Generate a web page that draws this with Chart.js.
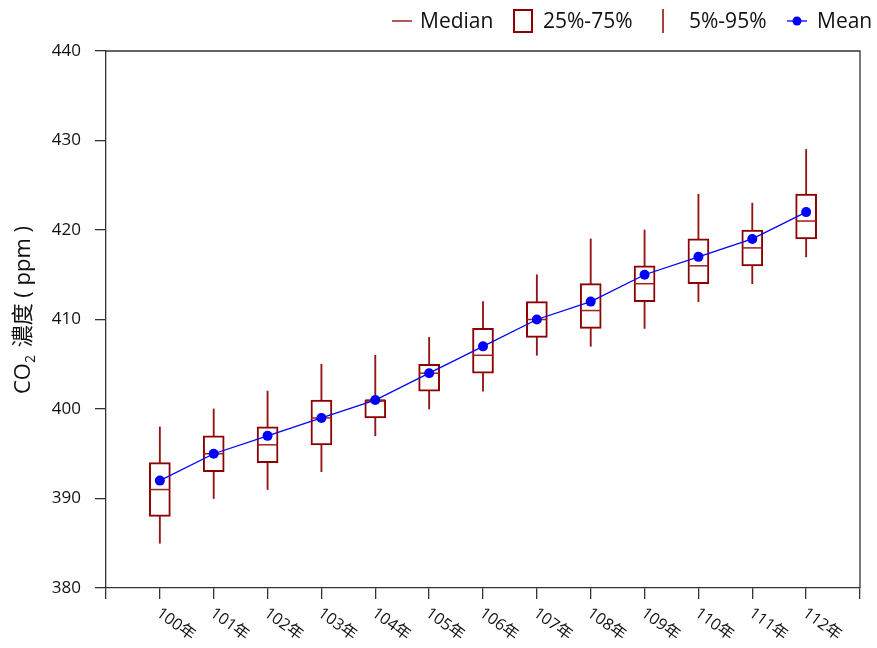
<!DOCTYPE html>
<html><head><meta charset="utf-8">
<script src="https://cdn.jsdelivr.net/npm/chart.js@4/dist/chart.umd.min.js"></script>
<style>html,body{margin:0;padding:0;background:#fff}#wrap{width:877px;height:648px}</style>
</head><body><div id="wrap"><canvas id="c" width="877" height="648"></canvas></div>
<script>
const years = [100,101,102,103,104,105,106,107,108,109,110,111,112];
const yearLabels = years.map(y => y + '年');
const p5     = [385,390,391,393,397,400,402,406,407,409,412,414,417];
const q1     = [388,393,394,396,399,402,404,408,409,412,414,416,419];
const median = [391,395,396,399,401,404,406,410,411,414,416,418,421];
const q3     = [394,397,398,401,401,405,409,412,414,416,419,420,424];
const p95    = [398,400,402,405,406,408,412,415,419,420,424,423,429];
const mean   = [392,395,397,399,401,404,407,410,412,415,417,419,422];
const yTicks = [380,390,400,410,420,430,440];
const legendNames = ['Median','25%-75%','5%-95%','Mean'];
const yTitle = ['CO','2',' 濃度 ( ppm )'];

const FONT = "'Open Sans','Noto Sans CJK TC',sans-serif";
const DARK = '#8b0000';
const MED = '#9e2020';
const BLUE = '#0000ff';
const AX = '#333333';

const pts = arr => years.map((x, i) => ({x, y: arr[i]}));
const rng = (a, b) => years.map((x, i) => ({x, y: [a[i], b[i]]}));

const deco = {
  id: 'deco',
  beforeDatasetsDraw(chart) {
    const {ctx, chartArea: a} = chart;
    ctx.save();
    ctx.strokeStyle = AX; ctx.lineWidth = 1.3;
    ctx.beginPath();
    ctx.moveTo(a.left, a.top); ctx.lineTo(a.right, a.top); ctx.lineTo(a.right, a.bottom);
    ctx.stroke();
    ctx.restore();
  },
  afterDraw(chart) {
    const {ctx} = chart;
    const xs = chart.scales.x;
    ctx.save();
    ctx.fillStyle = '#111';
    ctx.font = '16px ' + FONT;
    ctx.textAlign = 'left'; ctx.textBaseline = 'top';
    years.forEach((yr, i) => {
      const px = xs.getPixelForValue(yr);
      ctx.save();
      ctx.translate(px + 3, 605);
      ctx.rotate(36 * Math.PI / 180);
      ctx.fillText(yearLabels[i], 0, 0);
      ctx.restore();
    });
    ctx.save();
    ctx.translate(24, 311);
    ctx.rotate(-Math.PI / 2);
    ctx.fillStyle = '#111';
    ctx.textBaseline = 'middle'; ctx.textAlign = 'left';
    const big = '22px ' + FONT, small = '14px ' + FONT;
    ctx.font = big; const w0 = ctx.measureText(yTitle[0]).width;
    ctx.font = small; const w1 = ctx.measureText(yTitle[1]).width;
    ctx.font = big; const w2 = ctx.measureText(yTitle[2]).width;
    let sx = -(w0 + w1 + w2) / 2;
    ctx.font = big; ctx.fillText(yTitle[0], sx, 0); sx += w0;
    ctx.font = small; ctx.fillText(yTitle[1], sx, 7); sx += w1 + 2;
    ctx.font = big; ctx.fillText(yTitle[2], sx, 0);
    ctx.restore();
    ctx.font = '21px ' + FONT;
    ctx.fillStyle = '#111';
    ctx.textBaseline = 'middle'; ctx.textAlign = 'left';
    const ly = 21;
    ctx.strokeStyle = MED; ctx.lineWidth = 1.5;
    ctx.beginPath(); ctx.moveTo(392, ly); ctx.lineTo(412, ly); ctx.stroke();
    ctx.fillText(legendNames[0], 420, ly + 1);
    ctx.strokeStyle = DARK; ctx.lineWidth = 2;
    ctx.strokeRect(514, 10, 18, 22);
    ctx.fillText(legendNames[1], 543, ly + 1);
    ctx.lineWidth = 1.5;
    ctx.beginPath(); ctx.moveTo(663, 9); ctx.lineTo(663, 33); ctx.stroke();
    ctx.fillText(legendNames[2], 689, ly + 1);
    ctx.strokeStyle = BLUE; ctx.lineWidth = 1.3;
    ctx.beginPath(); ctx.moveTo(787, ly); ctx.lineTo(807, ly); ctx.stroke();
    ctx.fillStyle = BLUE;
    ctx.beginPath(); ctx.arc(797, ly, 4.5, 0, Math.PI * 2); ctx.fill();
    ctx.fillStyle = '#111';
    ctx.fillText(legendNames[3], 817, ly + 1);
    ctx.restore();
  }
};

new Chart(document.getElementById('c'), {
  data: {
    datasets: [
      {type: 'line', label: 'Mean', data: pts(mean), borderColor: BLUE, backgroundColor: BLUE,
       borderWidth: 1.3, pointRadius: 5, pointHoverRadius: 5, pointBorderWidth: 0, tension: 0, order: 0},
      {type: 'scatter', label: 'Median', data: pts(median), pointStyle: 'line', pointRadius: 10, pointHoverRadius: 10,
       borderColor: MED, backgroundColor: MED, borderWidth: 1.5, pointBorderWidth: 1.5, order: 1},
      {type: 'bar', label: 'Box', data: rng(q1, q3), backgroundColor: '#ffffff', borderColor: DARK,
       borderWidth: 2, borderSkipped: false, barThickness: 21, grouped: false, order: 2},
      {type: 'bar', label: 'Upper', data: rng(q3, p95), backgroundColor: '#931515', borderWidth: 0,
       barThickness: 1.2, grouped: false, order: 3},
      {type: 'bar', label: 'Lower', data: rng(p5, q1), backgroundColor: '#931515', borderWidth: 0,
       barThickness: 1.2, grouped: false, order: 3}
    ]
  },
  options: {
    responsive: false, animation: false, devicePixelRatio: 1,
    layout: {padding: {left: 0, top: 51, right: 17, bottom: 0}},
    plugins: {legend: {display: false}, tooltip: {enabled: false}},
    scales: {
      x: {type: 'linear', min: 99, max: 113, offset: false,
          grid: {offset: false, drawOnChartArea: false, tickLength: 11, color: AX, lineWidth: 1.3},
          border: {color: AX, width: 1.3},
          ticks: {display: false, stepSize: 1, autoSkip: false},
          afterFit: s => { s.height = 60; }},
      y: {type: 'linear', min: 380, max: 440,
          afterBuildTicks: s => { s.ticks = yTicks.map(v => ({value: v})); },
          grid: {drawOnChartArea: false, tickLength: 11, color: AX, lineWidth: 1.3},
          border: {color: AX, width: 1.3},
          ticks: {color: '#111', font: {size: 17, family: FONT}, padding: 14},
          afterFit: s => { s.width = 106; }}
    }
  },
  plugins: [deco]
});
</script>
</body></html>
